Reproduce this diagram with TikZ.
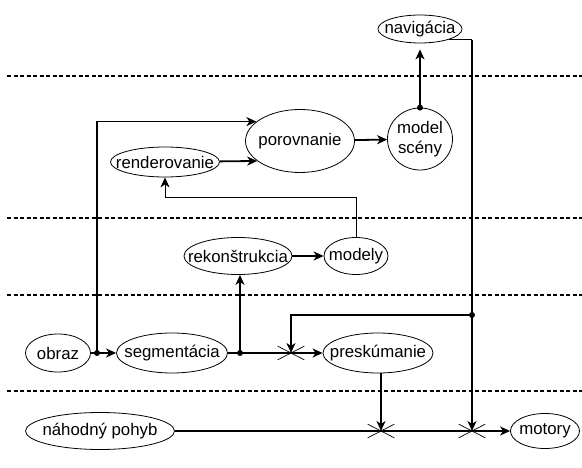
\documentclass[tikz,border=0pt]{standalone}
\usepackage{fontspec}
\setmainfont{Liberation Sans}
\usetikzlibrary{shapes.geometric,shapes.misc,arrows.meta}
\begin{document}
\begin{tikzpicture}
[   x=1pt,y=-1pt,
    font=\fontsize{16.8}{20}\selectfont,
    enode/.style={draw,ellipse,line width=0.8pt,inner sep=0pt,minimum width=#1,minimum height=38pt},
    xnode/.style={draw,cross out,line width=0.7pt,minimum width=26pt,minimum height=13pt,inner sep=0pt},
    jdot/.style={circle,fill,inner sep=0pt,minimum size=6pt},
    link/.style={line width=1.8pt,-{Stealth[length=10pt,width=9pt,inset=3pt]}},
    wire/.style={line width=0.8pt,-{Stealth[length=10pt,width=9pt,inset=3pt]}},
]
    \useasboundingbox (0,0) rectangle (582,468);

    \foreach \y in {76,218,295,391}
    {   \draw[line width=1.2pt,dash pattern=on 4pt off 2.5pt] (7,\y) -- (582,\y);
    }

    \node[enode=84pt,minimum height=28pt,label=center:navigácia] (navig) at (420,29) {};
    \node[enode=65pt,minimum height=62pt,label={[align=center]center:model\\scény}] (model) at (420,139) {};
    \node[enode=109pt,minimum height=63pt,label=center:porovnanie] (porov) at (300,141) {};
    \node[enode=109pt,minimum height=30pt,label=center:renderovanie] (render) at (165,162) {};
    \node[enode=108pt,minimum height=37pt,label=center:rekonštrukcia] (rekon) at (238,256) {};
    \node[enode=64pt,minimum height=37pt,label=center:modely] (modely) at (356,256) {};
    \node[enode=65pt,label=center:obraz] (obraz) at (58,353) {};
    \node[enode=111pt,minimum height=40pt,label=center:segmentácia] (segm) at (172,353) {};
    \node[enode=110pt,minimum height=40pt,label=center:preskúmanie] (presk) at (378,353) {};
    \node[enode=149pt,minimum height=37pt,label=center:náhodný pohyb] (nahod) at (100,431) {};
    \node[enode=69pt,minimum height=35pt,label=center:motory] (motory) at (545,431) {};

    \node[jdot] (d1) at (97,353) {};
    \node[jdot] (d2) at (240,353) {};
    \node[jdot] (d3) at (472,315) {};
    \node[jdot] (d4) at (model.north) {};
    \node[xnode] (x1) at (291,353) {};
    \node[xnode] (x2) at (381,431) {};
    \node[xnode] (x3) at (472,431) {};
    \coordinate (k) at (navig.-20 -| d3);

    \draw[link,-] (obraz) -- (d1.center);
    \draw[link] (d1.center) -- (segm);
    \draw[link] (d1.center) |- (porov.156);
    \draw[link] (render) -- (porov.205);
    \draw[link] (porov) -- (model);
    \draw[link,shorten >=6pt] (d4.center) -- (navig);
    \draw[wire,-] (navig.-20) -- (k);
    \draw[link] (k) -- (x3.center);
    \draw[link,-] (segm) -- (d2.center);
    \draw[link] (d2.center) -- (x1.center) -- (presk);
    \draw[link] (d2.center) -- (d2 |- rekon.south);
    \draw[link] (rekon) -- (modely);
    \draw[wire] (modely.north) -- ++(0,-40) -| (render.south);
    \draw[link] (d3.center) -| (x1.center);
    \draw[link] (x2 |- presk.south) -- (x2.center);
    \draw[link] (nahod) -- (x2.center) -- (x3.center) -- (motory);
\end{tikzpicture}
\end{document}
